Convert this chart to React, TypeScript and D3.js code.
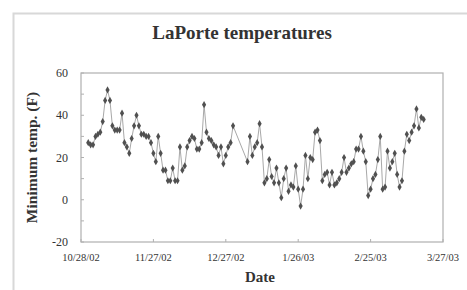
import * as d3 from "d3";
import React, { useEffect, useRef } from "react";

// daily minimum temperature readings, LaPorte
const readingDates = [
    "10/31/02",
    "11/1/02", "11/2/02", "11/3/02", "11/4/02", "11/5/02", "11/6/02", "11/7/02", "11/8/02", "11/9/02", "11/10/02",
    "11/11/02", "11/12/02", "11/13/02", "11/14/02", "11/15/02", "11/16/02", "11/17/02", "11/18/02", "11/19/02", "11/20/02",
    "11/21/02", "11/22/02", "11/23/02", "11/24/02", "11/25/02", "11/26/02", "11/27/02", "11/28/02", "11/29/02", "11/30/02",
    "12/1/02", "12/2/02", "12/3/02", "12/4/02", "12/5/02", "12/6/02", "12/7/02", "12/8/02", "12/9/02", "12/10/02",
    "12/11/02", "12/12/02", "12/13/02", "12/14/02", "12/15/02", "12/16/02", "12/17/02", "12/18/02", "12/19/02", "12/20/02",
    "12/21/02", "12/22/02", "12/23/02", "12/24/02", "12/25/02", "12/26/02", "12/27/02", "12/28/02", "12/29/02", "12/30/02",
    "1/5/03", "1/6/03", "1/7/03", "1/8/03", "1/9/03", "1/10/03",
    "1/11/03", "1/12/03", "1/13/03", "1/14/03", "1/15/03", "1/16/03", "1/17/03", "1/18/03", "1/19/03", "1/20/03",
    "1/21/03", "1/22/03", "1/23/03", "1/24/03", "1/25/03", "1/26/03", "1/27/03", "1/28/03", "1/29/03", "1/30/03", "1/31/03",
    "2/1/03", "2/2/03", "2/3/03", "2/4/03", "2/5/03", "2/6/03", "2/7/03", "2/8/03", "2/9/03", "2/10/03",
    "2/11/03", "2/12/03", "2/13/03", "2/14/03", "2/15/03", "2/16/03", "2/17/03", "2/18/03", "2/19/03", "2/20/03",
    "2/21/03", "2/22/03", "2/23/03", "2/24/03", "2/25/03", "2/26/03", "2/27/03", "2/28/03",
    "3/1/03", "3/2/03", "3/3/03", "3/4/03", "3/5/03", "3/6/03", "3/7/03", "3/8/03", "3/9/03", "3/10/03",
    "3/11/03", "3/12/03", "3/13/03", "3/14/03", "3/15/03", "3/16/03", "3/17/03", "3/18/03", "3/19/03",
];

const minTemps = [
    27, 26, 26, 30, 31, 32, 37, 47, 52, 47,
    35, 33, 33, 33, 41, 27, 25, 22, 29, 35,
    40, 35, 31, 31, 30, 30, 27, 22, 18, 30,
    22, 14, 14, 9, 9, 15, 9, 9, 25, 14,
    16, 25, 28, 30, 29, 24, 24, 27, 45, 32,
    29, 28, 26, 25, 21, 25, 17, 21, 25, 27,
    35,
    18, 30, 21, 25, 27, 36, 25, 8, 10, 19,
    11, 8, 15, 8, 1, 10, 15, 4, 7, 6,
    16, 5, -3, 5, 21, 10, 20, 19, 32, 33,
    28, 9, 12, 13, 7, 13, 7, 8, 10, 13,
    20, 13, 15, 17, 18, 24, 24, 30, 23, 18,
    2, 5, 10, 12, 19, 30, 5, 6, 23, 15,
    18, 22, 12, 6, 9, 23, 31, 28, 32, 35,
    43, 34, 39, 38,
];

const xTickLabels = ["10/28/02", "11/27/02", "12/27/02", "1/26/03", "2/25/03", "3/27/03"];
const yTickValues = [-20, 0, 20, 40, 60];
const yMinorTicks = [-20, -10, 0, 10, 20, 30, 40, 50, 60];

const W = 467;
const H = 290;
const margin = { left: 81, right: 24, top: 73, bottom: 48 };
const serif = "'Liberation Serif', 'Times New Roman', serif";

export default function App() {
    const svgRef = useRef<SVGSVGElement>(null);

    useEffect(() => {
        if (!svgRef.current) return;
        const svg = d3.select(svgRef.current);
        svg.selectAll("*").remove();

        const parse = d3.timeParse("%m/%d/%y");
        const points = readingDates.map((d, i) => ({ date: parse(d) as Date, temp: minTemps[i] }));
        const tickDates = xTickLabels.map((d) => parse(d) as Date);

        const x = d3
            .scaleTime()
            .domain([tickDates[0], tickDates[tickDates.length - 1]])
            .range([margin.left, W - margin.right]);
        const y = d3
            .scaleLinear()
            .domain([-20, 60])
            .range([H - margin.bottom, margin.top]);

        // outer chart frame
        svg.append("rect")
            .attr("x", 13.5).attr("y", 13.5)
            .attr("width", W).attr("height", H)
            .attr("fill", "none").attr("stroke", "#d8d8d8").attr("stroke-width", 2);

        // plot frame
        svg.append("rect")
            .attr("x", margin.left).attr("y", margin.top)
            .attr("width", W - margin.left - margin.right)
            .attr("height", H - margin.top - margin.bottom)
            .attr("fill", "none").attr("stroke", "#b0b0b0").attr("stroke-width", 1.2);

        // y ticks (inward) + labels
        svg.append("g")
            .selectAll("line")
            .data(yMinorTicks)
            .join("line")
            .attr("x1", margin.left).attr("x2", margin.left + 3)
            .attr("y1", (d) => y(d)).attr("y2", (d) => y(d))
            .attr("stroke", "#b0b0b0");
        svg.append("g")
            .selectAll("text")
            .data(yTickValues)
            .join("text")
            .attr("x", margin.left - 13)
            .attr("y", (d) => y(d) + 4)
            .attr("text-anchor", "end")
            .attr("font-family", serif).attr("font-size", 12)
            .attr("fill", "#333")
            .text((d) => d);

        // x ticks + labels
        svg.append("g")
            .selectAll("line")
            .data(tickDates)
            .join("line")
            .attr("x1", (d) => x(d)).attr("x2", (d) => x(d))
            .attr("y1", H - margin.bottom).attr("y2", H - margin.bottom - 3)
            .attr("stroke", "#b0b0b0");
        svg.append("g")
            .selectAll("text")
            .data(xTickLabels)
            .join("text")
            .attr("x", (_, i) => x(tickDates[i]))
            .attr("y", H - margin.bottom + 19)
            .attr("text-anchor", "middle")
            .attr("font-family", serif).attr("font-size", 10.5)
            .attr("fill", "#333")
            .text((d) => d);

        // series line
        const line = d3
            .line<{ date: Date; temp: number }>()
            .x((d) => x(d.date))
            .y((d) => y(d.temp));
        svg.append("path")
            .datum(points)
            .attr("fill", "none")
            .attr("stroke", "#a8a8a8")
            .attr("stroke-width", 1)
            .attr("d", line);

        svg.append("g")
            .selectAll("path")
            .data(points)
            .join("path")
            .attr("transform", (d) => `translate(${x(d.date)},${y(d.temp)})`)
            .attr("d", d3.symbol().type(d3.symbolDiamond).size(15)())
            .attr("fill", "#505050");

        svg.append("text")
            .attr("x", 242).attr("y", 39)
            .attr("text-anchor", "middle")
            .attr("font-family", serif).attr("font-weight", "bold").attr("font-size", 19)
            .attr("fill", "#333")
            .text("LaPorte temperatures");

        svg.append("text")
            .attr("transform", `translate(37,${(margin.top + H - margin.bottom) / 2}) rotate(-90)`)
            .attr("text-anchor", "middle")
            .attr("font-family", serif).attr("font-weight", "bold").attr("font-size", 15.5)
            .attr("fill", "#333")
            .text("Minimum temp. (F)");

        svg.append("text")
            .attr("x", 260).attr("y", 282)
            .attr("text-anchor", "middle")
            .attr("font-family", serif).attr("font-weight", "bold").attr("font-size", 15)
            .attr("fill", "#333")
            .text("Date");
    }, []);

    return (
        <svg
            ref={svgRef}
            width={W}
            height={H}
            style={{ position: "absolute", left: 0, top: 0, background: "#fff" }}
        />
    );
}
